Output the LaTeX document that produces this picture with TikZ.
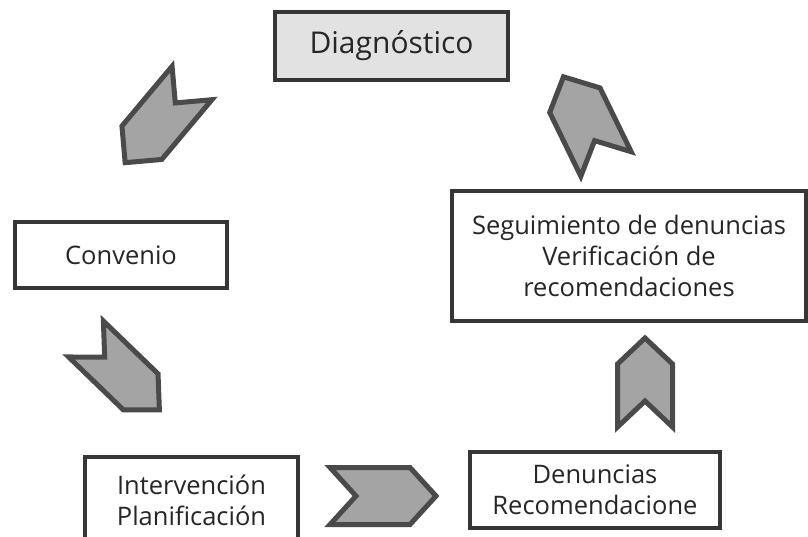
\documentclass[tikz,border=0pt]{standalone}
\usepackage{fontspec}
\setmainfont{Open Sans}
\definecolor{boxline}{HTML}{363636}
\definecolor{chevline}{HTML}{4A4A4A}
\definecolor{chevfill}{HTML}{A4A4A4}
\definecolor{diagfill}{HTML}{E2E2E2}
\definecolor{txt}{HTML}{262626}
\tikzset{
  stagebox/.style={draw=boxline, line width=4pt, fill=white, text=txt, align=center,
    inner sep=0pt, font=\fontsize{25.5}{31}\selectfont},
  chev/.style={draw=chevline, line width=5pt, fill=chevfill, line join=miter}
}
% #1,#2 tail middle (px), #3 angle, #4 length, #5 width
\newcommand{\chevshape}[5]{%
  \begin{scope}[shift={(#1,#2)}, rotate=#3, x=1pt, y=1pt]
    \draw[chev] (0,#5/2) -- (26,0) -- (0,-#5/2) -- (#4-26,-#5/2) -- (#4,0) -- (#4-26,#5/2) -- cycle;
  \end{scope}}
\begin{document}
\begin{tikzpicture}[x=1pt,y=-1pt]
  \useasboundingbox (0,0) rectangle (808,536);
  \fill[white] (0,0) rectangle (808,536);
  % boxes
  \node[stagebox, fill=diagfill, minimum width=233pt, minimum height=68pt,
        font=\fontsize{30}{36}\selectfont] (diag) at (391.5,46) {Diagnóstico};
  \node[stagebox, minimum width=212pt, minimum height=66pt] (conv) at (121,255) {Convenio};
  \node[stagebox, minimum width=354pt, minimum height=130pt] (seg) at (629,256)
       {Seguimiento de denuncias\\Verificación de\\recomendaciones};
  \node[stagebox, minimum width=213pt, minimum height=86pt] (interv) at (191.5,500)
       {Intervención\\Planificación};
  \node[stagebox, minimum width=250pt, minimum height=76pt] (denun) at (595,490)
       {Denuncias\\Recomendacione};
  % chevrons
  \chevshape{192}{83}{230}{104}{52}
  \chevshape{86}{339}{-44}{102}{50}
  \chevshape{330}{496}{0}{106}{57}
  \chevshape{645}{427}{90}{89}{55}
  \chevshape{606}{164}{116}{97}{56}
\end{tikzpicture}
\end{document}
